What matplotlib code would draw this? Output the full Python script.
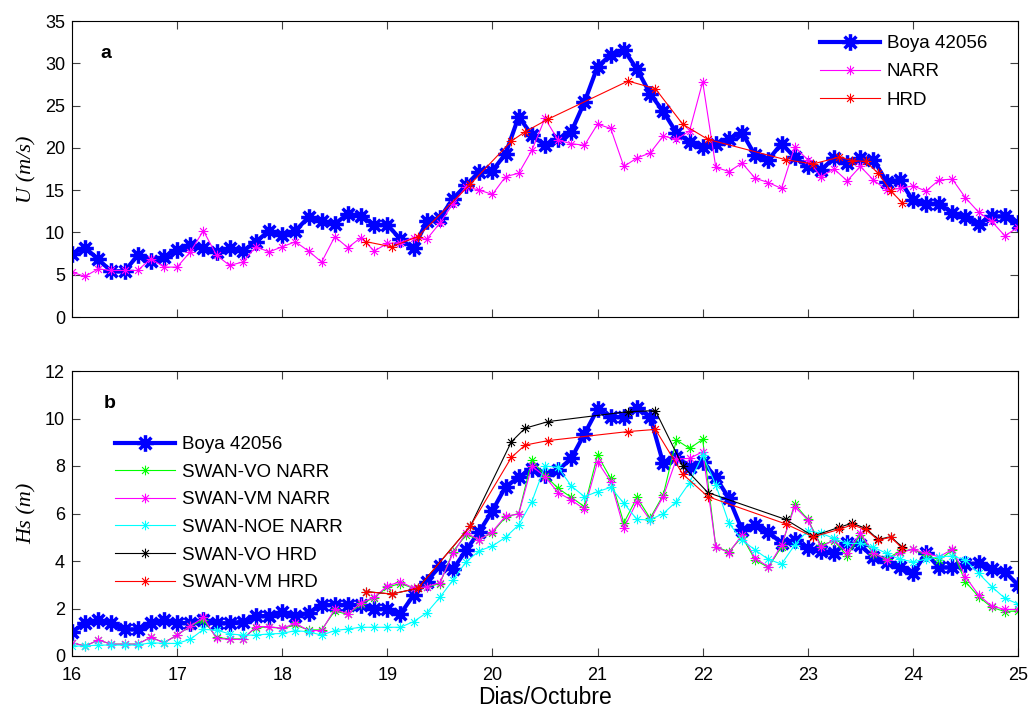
import numpy as np
import matplotlib
matplotlib.use('Agg')
import matplotlib.pyplot as plt
from matplotlib.path import Path

plt.rcParams['font.family'] = ['Liberation Sans', 'DejaVu Sans']

# ---- data (3-hourly, day 16.0 to 25.0) ----
boya_u = [7.5, 8.2, 6.8, 5.4, 5.4, 7.3, 6.6, 7.1, 7.9, 8.5, 8.1, 7.7, 8.1, 7.8, 8.9, 10.2,
          9.7, 10.2, 11.8, 11.4, 11.0, 12.2, 11.9, 10.9, 10.9, 9.2, 8.1, 11.3, 11.7, 14.0,
          15.6, 17.2, 17.3, 19.3, 23.7, 21.5, 20.3, 21.0, 21.9, 25.4, 29.6, 31.0, 31.6, 29.3,
          26.4, 24.3, 21.8, 20.7, 20.1, 20.5, 21.1, 21.8, 19.1, 18.6, 20.5, 18.9, 17.8, 17.4,
          18.8, 18.2, 18.8, 18.6, 16.0, 16.2, 13.8, 13.4, 13.4, 12.3, 11.8, 11.0, 11.9, 11.9, 11.1]
narr_u = [5.3, 4.8, 5.7, 5.5, 5.5, 5.5, 6.9, 5.9, 5.9, 7.7, 10.2, 7.3, 6.1, 6.5, 8.3, 7.7,
          8.3, 8.9, 7.8, 6.5, 9.5, 8.2, 9.4, 7.8, 8.7, 8.8, 9.4, 9.2, 11.1, 13.4, 15.4, 15.0,
          14.5, 16.6, 17.0, 19.7, 23.5, 20.9, 20.5, 20.3, 22.8, 22.3, 17.8, 18.8, 19.4, 21.4,
          21.0, 22.0, 27.8, 17.7, 17.2, 18.2, 16.4, 15.9, 15.2, 20.1, 18.6, 16.6, 17.5, 16.1,
          17.8, 16.2, 15.0, 15.2, 15.5, 14.9, 16.2, 16.3, 14.1, 12.4, 11.3, 9.6, 10.6]
hrd_t = [18.80, 19.04, 19.29, 19.79, 20.18, 20.31, 20.53, 21.29, 21.55, 21.81, 22.05,
         22.79, 23.05, 23.30, 23.42, 23.55, 23.67, 23.79, 23.90]
hrd_u = [8.9, 8.3, 9.5, 15.7, 20.8, 21.9, 23.4, 27.9, 27.0, 22.8, 21.0, 18.6, 18.1, 18.9,
         18.5, 18.4, 17.0, 14.9, 13.5]

boya_hs = [1.02, 1.38, 1.52, 1.38, 1.12, 1.12, 1.38, 1.52, 1.40, 1.38, 1.52, 1.38, 1.38, 1.45,
           1.68, 1.68, 1.87, 1.68, 1.82, 2.15, 2.15, 2.15, 2.15, 2.0, 1.97, 1.77, 2.57, 3.13,
           3.79, 3.65, 4.46, 5.24, 6.12, 7.13, 7.52, 7.86, 7.62, 7.83, 8.32, 9.35, 10.39, 10.08,
           10.05, 10.43, 10.08, 8.11, 8.4, 7.97, 8.18, 7.52, 6.64, 5.31, 5.52, 5.24, 4.74, 4.88,
           4.53, 4.43, 4.35, 4.77, 4.67, 4.15, 3.97, 3.73, 3.48, 4.32, 3.73, 3.73, 3.87, 3.9,
           3.65, 3.55, 2.99]
vo_narr = [0.56, 0.42, 0.67, 0.5, 0.5, 0.5, 0.79, 0.56, 0.88, 1.26, 1.52, 0.78, 0.72, 0.72,
           1.2, 1.22, 1.16, 1.3, 1.1, 1.1, 1.9, 1.75, 2.2, 2.45, 2.9, 3.05, 2.85, 2.9, 3.05,
           4.4, 5.1, 4.9, 5.2, 5.85, 6.0, 8.25, 7.6, 7.06, 6.68, 6.29, 8.46, 7.48, 5.6, 6.68,
           5.8, 6.78, 9.1, 8.74, 9.12, 4.6, 4.39, 5.02, 4.04, 3.73, 4.6, 6.4, 5.75, 4.67, 4.85,
           4.21, 5.1, 4.3, 4.1, 4.4, 4.49, 4.25, 4.05, 4.45, 3.13, 2.5, 2.05, 1.87, 1.9]
vm_narr = [0.56, 0.42, 0.67, 0.5, 0.5, 0.5, 0.79, 0.56, 0.88, 1.26, 1.63, 0.74, 0.70, 0.70,
           1.24, 1.24, 1.16, 1.38, 1.07, 1.07, 1.97, 1.77, 2.25, 2.47, 2.95, 3.13, 2.85, 2.92,
           3.09, 4.32, 5.19, 4.88, 5.24, 5.89, 5.98, 8.0, 7.55, 6.88, 6.57, 6.18, 8.18, 7.34,
           5.38, 6.5, 5.73, 6.71, 8.3, 8.32, 8.6, 4.6, 4.35, 5.1, 4.11, 3.76, 4.67, 6.29, 5.73,
           4.6, 4.88, 4.35, 5.17, 4.35, 4.04, 4.35, 4.49, 4.32, 4.18, 4.49, 3.34, 2.57, 2.1,
           1.96, 1.96]
noe_narr = [0.42, 0.42, 0.46, 0.46, 0.46, 0.46, 0.56, 0.53, 0.53, 0.70, 1.12, 1.09, 0.93, 0.88,
            0.88, 0.93, 0.95, 1.07, 1.02, 0.88, 1.07, 1.14, 1.21, 1.21, 1.21, 1.21, 1.45, 1.82,
            2.47, 3.2, 3.97, 4.43, 4.63, 5.0, 5.52, 6.5, 8.0, 7.94, 7.16, 6.71, 6.92, 7.1, 6.43,
            5.75, 5.73, 6.0, 6.5, 7.3, 8.46, 7.2, 5.59, 4.88, 4.46, 4.07, 3.87, 4.67, 5.28, 5.17,
            4.95, 4.74, 4.74, 4.58, 4.32, 4.07, 3.97, 4.07, 4.18, 4.21, 4.04, 3.48, 2.92, 2.43,
            2.19]
vo_hrd = [2.71, 2.61, 2.85, 5.47, 9.02, 9.59, 9.87, 10.29, 10.33, 8.0, 6.88, 5.75, 5.05,
          5.42, 5.59, 5.38, 4.91, 5.02, 4.58]
vm_hrd = [2.71, 2.61, 2.85, 5.47, 8.36, 8.88, 9.07, 9.45, 9.54, 7.66, 6.71, 5.56, 5.02,
          5.33, 5.52, 5.33, 4.88, 5.0, 4.53]

day_ticks = [16, 17, 18, 19, 20, 21, 22, 23, 24, 25]

t = 16 + np.arange(len(boya_u)) / 8.0

star = Path([(-1, 0), (1, 0), (0, -1), (0, 1),
             (-0.7071, -0.7071), (0.7071, 0.7071), (-0.7071, 0.7071), (0.7071, -0.7071)],
            [Path.MOVETO, Path.LINETO] * 4)

W, H = 1030, 710
fig = plt.figure(figsize=(W / 100, H / 100), dpi=100)
ax1 = fig.add_axes([72 / W, 1 - 317 / H, (1018 - 72) / W, (317 - 21) / H])
ax2 = fig.add_axes([72 / W, 1 - 656 / H, (1018 - 72) / W, (656 - 371) / H])

big = dict(color='blue', lw=3, marker=star, ms=12, mew=2.5, mfc='none')
small = dict(lw=0.8, marker=star, ms=7, mew=0.8, mfc='none')

ax1.plot(t, boya_u, label='Boya 42056', **big)
ax1.plot(t, narr_u, color='magenta', label='NARR', **small)
ax1.plot(hrd_t, hrd_u, color='red', label='HRD', **small)

ax2.plot(t, boya_hs, label='Boya 42056', **big)
ax2.plot(t, vo_narr, color='lime', label='SWAN-VO NARR', **small)
ax2.plot(t, vm_narr, color='magenta', label='SWAN-VM NARR', **small)
ax2.plot(t, noe_narr, color='cyan', label='SWAN-NOE NARR', **small)
ax2.plot(hrd_t, vo_hrd, color='black', label='SWAN-VO HRD', **small)
ax2.plot(hrd_t, vm_hrd, color='red', label='SWAN-VM HRD', **small)

for ax in (ax1, ax2):
    ax.set_xlim(16, 25)
    ax.set_xticks(day_ticks)
    ax.tick_params(direction='in', top=True, right=True, length=6, width=0.8,
                   labelsize=13, pad=5, color='#404040')
    ax.tick_params(axis='x', pad=8)
    for s in ax.spines.values():
        s.set_linewidth(0.8)

ax1.set_ylim(0, 35)
ax1.set_yticks(range(0, 36, 5))
ax1.tick_params(labelbottom=False)
ax2.set_ylim(0, 12)
ax2.set_yticks(range(0, 13, 2))

lab = dict(family=['Liberation Serif', 'DejaVu Serif'], style='italic', size=16)
ax1.set_ylabel('U (m/s)', fontdict=lab, labelpad=6)
ax2.set_ylabel('Hs (m)', fontdict=lab, labelpad=6)
ax2.set_xlabel('Dias/Octubre', fontsize=16.5, labelpad=1)

fig.text(106 / W, 1 - 53 / H, 'a', fontsize=14, fontweight='bold', ha='center', va='center')
fig.text(110 / W, 1 - 403 / H, 'b', fontsize=14, fontweight='bold', ha='center', va='center')

leg_kw = dict(frameon=False, fontsize=13.5, handlelength=3.2, handletextpad=0.35,
              borderpad=0, borderaxespad=0, loc='upper left')
ax1.legend(bbox_to_anchor=(820 / W, 1 - 35 / H), bbox_transform=fig.transFigure,
           labelspacing=0.6, **leg_kw)
ax2.legend(bbox_to_anchor=(115 / W, 1 - 436 / H), bbox_transform=fig.transFigure,
           labelspacing=0.56, **leg_kw)

fig.savefig('out.png', dpi=100)
